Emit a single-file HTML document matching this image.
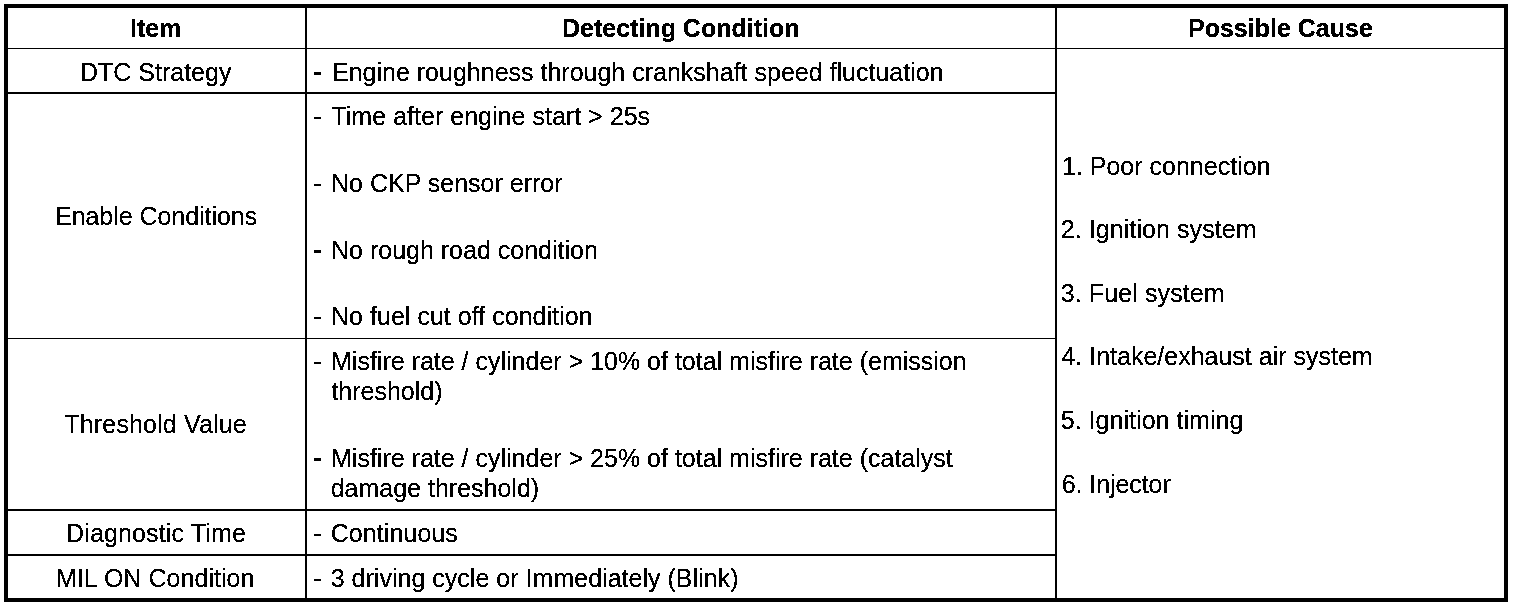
<!DOCTYPE html>
<html><head><meta charset="utf-8"><title>DTC table</title>
<style>
html,body{margin:0;padding:0;background:#fff;}
body{width:1520px;height:608px;position:relative;overflow:hidden;font-family:"Liberation Sans",sans-serif;font-size:25px;line-height:25px;color:#000;}
#wrap{position:absolute;left:0;top:0;width:1520px;height:608px;background:#fff;filter:url(#thr);}
.l{position:absolute;background:#000;}
.t{position:absolute;white-space:nowrap;}
b{font-weight:bold;}
</style></head><body>
<svg width="0" height="0" style="position:absolute"><filter id="thr" x="0" y="0" width="100%" height="100%" color-interpolation-filters="sRGB"><feComponentTransfer><feFuncR type="discrete" tableValues="0 0 1"/><feFuncG type="discrete" tableValues="0 0 1"/><feFuncB type="discrete" tableValues="0 0 1"/></feComponentTransfer></filter></svg>
<div id="wrap">
<div class="l" style="left:4px;top:4px;width:1504px;height:4px"></div>
<div class="l" style="left:4px;top:598px;width:1504px;height:4px"></div>
<div class="l" style="left:4px;top:4px;width:4px;height:598px"></div>
<div class="l" style="left:1504px;top:4px;width:4px;height:598px"></div>
<div class="l" style="left:305px;top:8px;width:2px;height:590px"></div>
<div class="l" style="left:1055px;top:8px;width:2px;height:590px"></div>
<div class="l" style="left:8px;top:48px;width:1496px;height:1px"></div>
<div class="l" style="left:8px;top:92px;width:1047px;height:2px"></div>
<div class="l" style="left:8px;top:338px;width:1047px;height:1px"></div>
<div class="l" style="left:8px;top:509px;width:1047px;height:2px"></div>
<div class="l" style="left:8px;top:554px;width:1047px;height:2px"></div>
<div class="l" style="left:314px;top:72px;width:7px;height:3px"></div>
<div class="l" style="left:314px;top:117px;width:7px;height:2px"></div>
<div class="l" style="left:314px;top:184px;width:7px;height:2px"></div>
<div class="l" style="left:314px;top:250px;width:7px;height:3px"></div>
<div class="l" style="left:314px;top:317px;width:7px;height:2px"></div>
<div class="l" style="left:314px;top:362px;width:7px;height:2px"></div>
<div class="l" style="left:314px;top:458px;width:7px;height:3px"></div>
<div class="l" style="left:314px;top:534px;width:7px;height:2px"></div>
<div class="l" style="left:314px;top:579px;width:7px;height:2px"></div>
<div class="t" style="left:130.00px;top:16px"><b>Item</b></div>
<div class="t" style="left:562.00px;top:16px"><b>Detecting Condition</b></div>
<div class="t" style="left:1188.00px;top:16px"><b>Possible Cause</b></div>
<div class="t" style="left:80.00px;top:60px">DTC Strategy</div>
<div class="t" style="left:55.00px;top:204px;letter-spacing:-0.044px">Enable Conditions</div>
<div class="t" style="left:64.40px;top:412px;letter-spacing:0.150px">Threshold Value</div>
<div class="t" style="left:66.00px;top:521px;letter-spacing:0.150px">Diagnostic Time</div>
<div class="t" style="left:56.00px;top:566px;letter-spacing:0.047px">MIL ON Condition</div>
<div class="t" style="left:332.00px;top:60px">Engine roughness through crankshaft speed fluctuation</div>
<div class="t" style="left:331.40px;top:104px;letter-spacing:0.025px">Time after engine start &gt; 25s</div>
<div class="t" style="left:331.00px;top:171px">No CKP sensor error</div>
<div class="t" style="left:331.00px;top:238px">No rough road condition</div>
<div class="t" style="left:331.00px;top:304px;letter-spacing:0.029px">No fuel cut off condition</div>
<div class="t" style="left:331.00px;top:349px">Misfire rate / cylinder &gt; 10% of total misfire rate (emission</div>
<div class="t" style="left:331.40px;top:379px">threshold)</div>
<div class="t" style="left:331.00px;top:446px">Misfire rate / cylinder &gt; 25% of total misfire rate (catalyst</div>
<div class="t" style="left:330.70px;top:476px">damage threshold)</div>
<div class="t" style="left:330.70px;top:521px;letter-spacing:0.078px">Continuous</div>
<div class="t" style="left:330.70px;top:566px;letter-spacing:0.019px">3 driving cycle or Immediately (Blink)</div>
<div class="t" style="left:1062.00px;top:154px">1. Poor connection</div>
<div class="t" style="left:1060.70px;top:217px;letter-spacing:0.082px">2. Ignition system</div>
<div class="t" style="left:1060.70px;top:281px;letter-spacing:0.108px">3. Fuel system</div>
<div class="t" style="left:1061.40px;top:344px">4. Intake/exhaust air system</div>
<div class="t" style="left:1060.70px;top:408px;letter-spacing:0.041px">5. Ignition timing</div>
<div class="t" style="left:1061.70px;top:472px;letter-spacing:-0.070px">6. Injector</div>
</div></body></html>
